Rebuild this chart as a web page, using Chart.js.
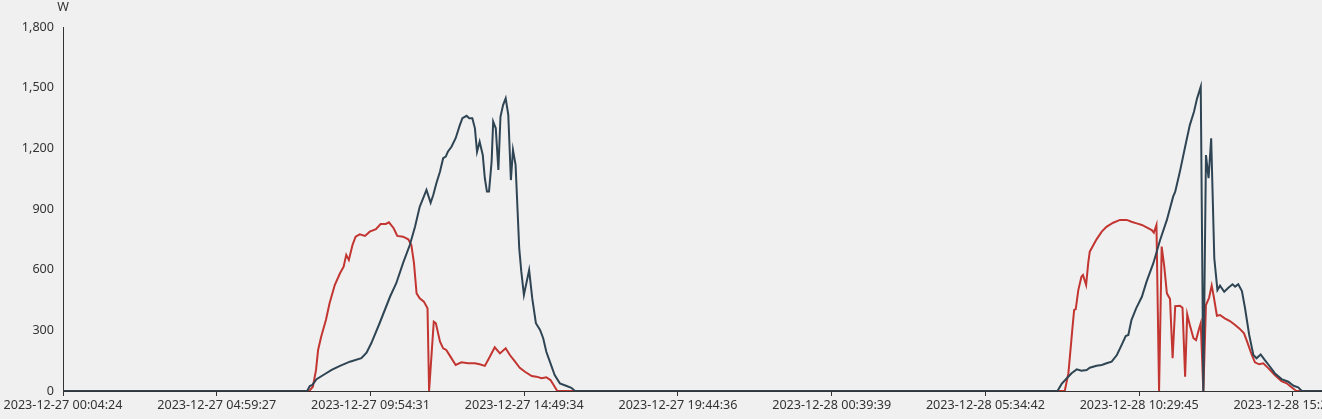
<!DOCTYPE html>
<html lang="en">
<head>
    <meta charset="UTF-8">
    <title>Power W</title>
    <script src="https://cdn.jsdelivr.net/npm/chart.js"></script>
    <style>
        html, body { margin: 0; padding: 0; background: #f0f0f0; overflow: hidden; }
        canvas { display: block; }
    </style>
</head>
<body>
    <canvas id="powerChart" width="1322" height="419"></canvas>

    <script>
        // x axis labels (one every 59 samples in the original)
        const tickLabels = [
            '2023-12-27 00:04:24', '2023-12-27 04:59:27', '2023-12-27 09:54:31',
            '2023-12-27 14:49:34', '2023-12-27 19:44:36', '2023-12-28 00:39:39',
            '2023-12-28 05:34:42', '2023-12-28 10:29:45', '2023-12-28 15:24:48'
        ];
        const lastSample = '2023-12-28 16:20:42';

        // red series, 27 Dec
        const redDay1Times = ['00:04:24','07:57','08:04','08:10','08:14','08:20','08:29','08:36','08:46','08:56','09:03','09:08','09:13','09:20','09:26','09:34','09:44','09:53','10:05','10:14','10:24','10:30','10:39','10:46','10:57','11:07','11:13','11:18','11:23','11:29','11:37','11:44','11:47','11:56','12:00','12:08','12:14','12:20','12:28','12:38','12:49','13:02','13:15','13:24','13:34','13:42','13:53','14:03','14:14','14:22','14:32','14:41','14:51','15:04','15:13','15:23','15:32','15:40','15:46','15:53'];
        const redDay1Values = [0,0,21,104,203,269,351,434,524,582,615,673,648,722,763,775,767,788,800,826,826,834,805,767,763,750,722,632,483,458,442,409,0,343,335,244,211,203,170,129,142,137,137,132,124,162,216,186,211,178,145,115,95,74,71,63,68,54,30,0];

        // red series, 28 Dec
        const redDay2Times = ['08:07','08:14','08:22','08:25','08:28','08:33','08:39','08:42','08:48','08:52','08:55','09:02','09:08','09:18','09:27','09:40','09:53','10:06','10:15','10:25','10:35','10:44','10:54','10:58','11:03','11:08','11:13','11:18','11:23','11:29','11:34','11:39','11:48','11:53','11:58','12:02','12:07','12:14','12:19','12:25','12:28','12:33','12:38','12:44','12:49','12:53','12:59','13:05','13:14','13:24','13:34','13:43','13:51','13:57','14:06','14:12','14:20','14:28','14:38','14:50','15:03','15:13','15:21','15:29','15:32','16:20:42'];
        const redDay2Values = [0,88,318,401,404,499,565,574,524,632,689,722,750,788,812,832,846,846,837,829,821,809,796,783,821,0,714,615,483,455,162,420,422,412,71,379,326,261,252,310,335,0,425,461,521,466,372,376,359,346,326,307,285,244,178,142,132,137,112,79,49,38,21,5,0,0];

        // dark series, 27 Dec
        const navyDay1Times = ['00:04:24','07:53','07:58','08:03','08:11','08:24','08:40','08:56','09:15','09:37','09:47','09:56','10:12','10:32','10:44','10:57','11:10','11:20','11:29','11:42','11:50','11:55','12:01','12:08','12:14','12:19','12:23','12:30','12:38','12:46','12:51','12:59','13:04','13:10','13:15','13:19','13:24','13:30','13:34','13:38','13:42','13:47','13:50','13:55','14:00','14:04','14:09','14:14','14:19','14:24','14:28','14:33','14:40','14:44','14:49','14:59','15:05','15:12','15:20','15:26','15:32','15:40','15:48','15:58','16:11','16:20','16:27'];
        const navyDay1Values = [0,0,25,30,58,79,104,124,145,162,190,236,335,466,533,632,722,812,911,994,931,969,1027,1085,1151,1159,1183,1208,1250,1315,1349,1361,1349,1349,1299,1183,1233,1167,1052,986,986,1134,1332,1299,1093,1356,1414,1447,1365,1043,1192,1118,706,590,475,598,458,335,302,261,194,137,79,38,25,16,0];

        // dark series, 28 Dec
        const navyDay2Times = ['07:53','08:01','08:11','08:20','08:30','08:39','08:49','08:55','09:08','09:18','09:27','09:37','09:47','09:56','10:04','10:09','10:15','10:24','10:35','10:44','10:57','11:10','11:23','11:35','11:39','11:48','11:58','12:07','12:15','12:21','12:28','12:33','12:38','12:43','12:48','12:54','13:00','13:05','13:13','13:21','13:29','13:34','13:40','13:47','13:53','14:01','14:09','14:15','14:23','14:31','14:41','14:50','15:03','15:16','15:26','15:35','15:42','16:20:42'];
        const navyDay2Values = [0,35,63,88,107,100,104,115,125,129,137,145,178,227,272,277,351,409,466,541,632,747,846,961,986,1085,1208,1315,1381,1447,1505,0,1167,1052,1250,656,499,521,491,511,528,516,528,494,409,277,178,162,181,153,120,88,59,46,26,18,0,0];

        // minutes since 2023-12-27 00:00
        function toMinutes(stamp) {
            const [day, time] = stamp.split(' ');
            const [h, m, s] = time.split(':').map(Number);
            const dayOffset = day === '2023-12-28' ? 1440 : 0;
            return dayOffset + h * 60 + m + (s || 0) / 60;
        }

        function buildPoints(day, times, values) {
            return times.map((t, i) => ({ x: toMinutes(day + ' ' + t), y: values[i] }));
        }

        const redPoints = buildPoints('2023-12-27', redDay1Times, redDay1Values)
            .concat(buildPoints('2023-12-28', redDay2Times, redDay2Values));
        const navyPoints = buildPoints('2023-12-27', navyDay1Times, navyDay1Values)
            .concat(buildPoints('2023-12-28', navyDay2Times, navyDay2Values));

        Chart.defaults.font.family = '"Noto Sans", sans-serif';
        Chart.defaults.font.size = 12.6;
        Chart.defaults.color = '#333';

        const background = {
            id: 'background',
            beforeDraw(chart) {
                const ctx = chart.ctx;
                ctx.save();
                ctx.fillStyle = '#f0f0f0';
                ctx.fillRect(0, 0, chart.width, chart.height);
                ctx.restore();
            }
        };

        // unit name above the value axis
        const unitName = {
            id: 'unitName',
            afterDraw(chart) {
                const ctx = chart.ctx;
                ctx.save();
                ctx.font = '12.6px "Noto Sans", sans-serif';
                ctx.fillStyle = '#333';
                ctx.textAlign = 'center';
                ctx.textBaseline = 'middle';
                ctx.fillText('W', chart.chartArea.left, 7);
                ctx.restore();
            }
        };

        const ctx = document.getElementById('powerChart').getContext('2d');
        const powerChart = new Chart(ctx, {
            type: 'line',
            data: {
                datasets: [
                    {
                        label: 'navy',
                        data: navyPoints,
                        borderColor: '#2f4554',
                        borderWidth: 2,
                        pointRadius: 0,
                        tension: 0,
                        order: 0
                    },
                    {
                        label: 'red',
                        data: redPoints,
                        borderColor: '#c23531',
                        borderWidth: 2,
                        pointRadius: 0,
                        tension: 0,
                        order: 1
                    }
                ]
            },
            options: {
                responsive: false,
                animation: false,
                layout: { padding: { top: 27, left: 0, right: 0, bottom: 0 } },
                plugins: {
                    legend: { display: false },
                    tooltip: { enabled: false }
                },
                scales: {
                    x: {
                        type: 'linear',
                        min: toMinutes(tickLabels[0]),
                        max: toMinutes(lastSample),
                        afterBuildTicks: scale => {
                            scale.ticks = tickLabels.map(l => ({ value: toMinutes(l) }));
                        },
                        afterFit: scale => {
                            scale.paddingLeft = 0;
                            scale.paddingRight = 0;
                            scale.height = 28;
                        },
                        ticks: {
                            autoSkip: false,
                            maxRotation: 0,
                            padding: 2,
                            callback: (value, index) => tickLabels[index]
                        },
                        grid: {
                            drawOnChartArea: false,
                            drawTicks: true,
                            tickLength: 5,
                            color: '#333'
                        },
                        border: { color: '#333', width: 1 }
                    },
                    y: {
                        min: 0,
                        max: 1800,
                        afterFit: scale => {
                            scale.width = 63;
                            scale.paddingTop = 0;
                            scale.paddingBottom = 0;
                        },
                        ticks: { stepSize: 300, padding: 9 },
                        grid: { display: false, drawTicks: false },
                        border: { color: '#333', width: 1 }
                    }
                }
            },
            plugins: [background, unitName]
        });
    </script>
</body>
</html>
